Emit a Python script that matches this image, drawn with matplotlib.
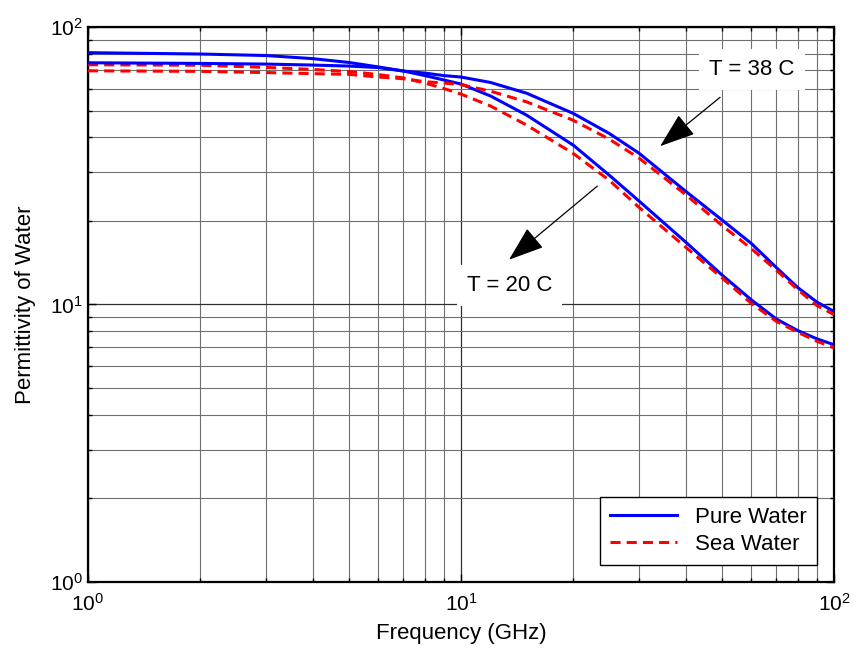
import matplotlib
matplotlib.use("Agg")
import matplotlib.pyplot as plt
from matplotlib.ticker import LogLocator, NullFormatter

plt.rcParams['font.family'] = ['Liberation Sans', 'DejaVu Sans']
plt.rcParams['mathtext.fontset'] = 'custom'
plt.rcParams['mathtext.rm'] = 'Liberation Sans'
plt.rcParams['mathtext.it'] = 'Liberation Sans'
plt.rcParams['mathtext.bf'] = 'Liberation Sans'

# Frequency samples (GHz)
freq = [1, 2, 3, 4, 5, 6, 7, 8, 9, 10, 12, 15, 20, 25, 30, 40, 50, 60, 70, 80, 90, 100]

# Real permittivity, pure water and sea water at 20 C and 38 C
pure_20 = [80.8, 79.9, 78.9, 76.9, 74.5, 71.8, 69.4, 66.8, 64.4, 62.3, 56.4, 48.1,
           37.5, 29.2, 23.6, 16.8, 12.8, 10.4, 8.87, 8.05, 7.52, 7.16]
sea_20 = [73.1, 72.8, 71.5, 70.3, 69.1, 67.4, 65.5, 62.8, 60.0, 57.3, 51.9, 44.3,
          35.0, 28.0, 22.4, 16.1, 12.5, 10.1, 8.7, 7.94, 7.37, 6.98]
pure_38 = [74.3, 73.9, 73.5, 72.9, 72.3, 71.4, 69.4, 68.2, 66.8, 66.0, 63.1, 57.7,
           48.8, 41.3, 35.1, 25.6, 20.2, 16.6, 13.6, 11.5, 10.2, 9.44]
sea_38 = [69.5, 69.2, 68.5, 67.9, 67.5, 66.0, 65.1, 63.5, 62.8, 62.0, 58.7, 53.7,
          46.1, 39.4, 33.7, 24.9, 19.3, 15.9, 13.3, 11.3, 9.91, 9.19]

series_labels = ['Pure Water', 'Sea Water']
annot_38 = 'T = 38 C'
annot_20 = 'T = 20 C'

fig = plt.figure(figsize=(8.56, 6.53), dpi=100)
ax = fig.add_axes([0.1028, 0.1087, 0.8715, 0.85])

lw = 2.2
dash = (0, (3.3, 2.0))
h1, = ax.loglog(freq, pure_20, color='#0000ff', lw=lw, label=series_labels[0], zorder=3)
h2, = ax.loglog(freq, sea_20, color='#ff0000', lw=lw, linestyle=dash, label=series_labels[1], zorder=3)
ax.loglog(freq, pure_38, color='#0000ff', lw=lw, zorder=3)
ax.loglog(freq, sea_38, color='#ff0000', lw=lw, linestyle=dash, zorder=3)

ax.set_xlim(1, 100)
ax.set_ylim(1, 100)

ax.xaxis.set_major_locator(LogLocator(base=10, numticks=10))
ax.yaxis.set_major_locator(LogLocator(base=10, numticks=10))
ax.xaxis.set_minor_locator(LogLocator(base=10, subs=range(2, 10), numticks=20))
ax.yaxis.set_minor_locator(LogLocator(base=10, subs=range(2, 10), numticks=20))
ax.xaxis.set_minor_formatter(NullFormatter())
ax.yaxis.set_minor_formatter(NullFormatter())

ax.grid(True, which='major', color='#303030', lw=0.9, zorder=0)
ax.grid(True, which='minor', color='#707070', lw=0.8, zorder=0)
ax.set_axisbelow(True)

ax.tick_params(which='both', direction='in', top=True, right=True, labelsize=15, colors='black')
ax.tick_params(which='major', length=6, width=1)
ax.tick_params(which='minor', length=3, width=1)
ax.tick_params(axis='x', pad=8)
for s in ax.spines.values():
    s.set_linewidth(1.6)
    s.set_color('black')

ax.set_xlabel('Frequency (GHz)', fontsize=16, labelpad=6)
ax.set_ylabel('Permittivity of Water', fontsize=16, labelpad=10)

bbox = dict(boxstyle='square,pad=0.45', fc='white', ec='none')
ax.text(60.3, 70.0, annot_38, fontsize=16, ha='center', va='center', bbox=bbox, zorder=4)
ax.text(13.5, 11.7, annot_20, fontsize=16, ha='center', va='center', bbox=bbox, zorder=4)

arrow = dict(arrowstyle='-|>,head_length=1.4,head_width=0.5', color='black', lw=0.9,
             mutation_scale=16, shrinkA=0, shrinkB=0)
ax.annotate('', xy=(34.2, 37.2), xytext=(49.5, 55.8), arrowprops=arrow, zorder=5)
ax.annotate('', xy=(13.45, 14.5), xytext=(23.2, 26.7), arrowprops=arrow, zorder=5)

leg = ax.legend(handles=[h1, h2], loc='lower right', fontsize=16, frameon=True,
                fancybox=False, framealpha=1, edgecolor='black', borderaxespad=0.78,
                handlelength=3.0, handletextpad=0.8, borderpad=0.45, labelspacing=0.25)
leg.get_frame().set_linewidth(1.0)

fig.savefig('out.png', dpi=100)
